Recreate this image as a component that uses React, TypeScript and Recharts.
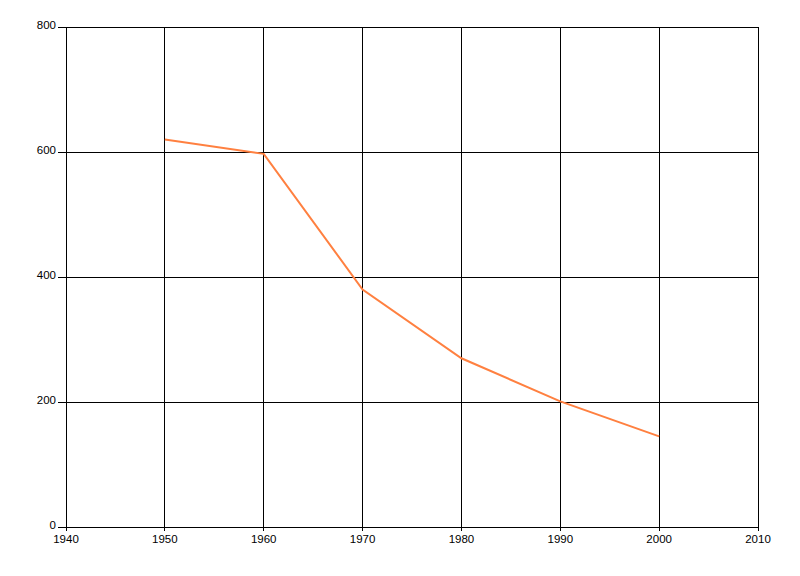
import React from "react";
import { CartesianGrid, Line, LineChart, XAxis, YAxis } from "recharts";

const years = [1950, 1960, 1970, 1980, 1990, 2000];
const values = [620, 597, 380, 270, 201, 145];
const xTicks = [1940, 1950, 1960, 1970, 1980, 1990, 2000, 2010];
const yTicks = [0, 200, 400, 600, 800];

const data = years.map((year, i) => ({ year, value: values[i] }));

const tickStyle = { fontSize: 11.5, fill: "#000", fontFamily: "'Liberation Sans', Arial, sans-serif" };

export default function App() {
  return (
    <div style={{ margin: -8, width: 800, height: 576, background: "#fff" }}>
      <LineChart width={800} height={576} data={data} margin={{ top: 27, right: 42, left: 0, bottom: 19 }}>
        <CartesianGrid stroke="#000" strokeWidth={1} shapeRendering="crispEdges" />
        <XAxis
          dataKey="year"
          type="number"
          domain={[1940, 2010]}
          ticks={xTicks}
          height={30}
          axisLine={{ stroke: "#000", shapeRendering: "crispEdges" }}
          tickLine={{ stroke: "#000", shapeRendering: "crispEdges" }}
          tickSize={4}
          tick={{ ...tickStyle, dy: 2 }}
        />
        <YAxis
          type="number"
          domain={[0, 800]}
          ticks={yTicks}
          width={66}
          axisLine={{ stroke: "#000", shapeRendering: "crispEdges" }}
          tickLine={{ stroke: "#000", shapeRendering: "crispEdges" }}
          tickSize={8}
          tick={{ ...tickStyle, dy: -2 }}
        />
        <Line dataKey="value" stroke="#ff8040" strokeWidth={2} dot={false} isAnimationActive={false} />
      </LineChart>
    </div>
  );
}
